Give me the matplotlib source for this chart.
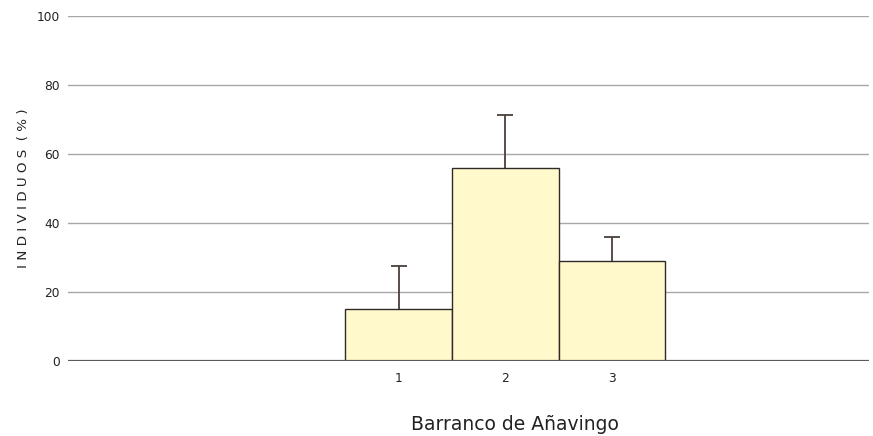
import matplotlib.pyplot as plt

sites = [1, 2, 3]
percent = [15.0, 56.0, 28.9]
err_up = [12.5, 15.2, 7.1]
yticks = [0, 20, 40, 60, 80, 100]

fig = plt.figure(figsize=(8.73, 4.36), dpi=100)
ax = fig.add_axes([68 / 873, 75.5 / 436, 801 / 873, 344.2 / 436])

for y in yticks[1:]:
    ax.axhline(y, color='#a8a8a8', lw=1.0, zorder=0)
ax.axhline(0, color='#5a5a5a', lw=1.6, zorder=3)

ax.bar(sites, percent, width=1.0, color='#fff9cc', edgecolor='#2e2a28', lw=1.0, zorder=2)

# upper error bars only: stem + top cap
tops = [p + e for p, e in zip(percent, err_up)]
ax.vlines(sites, percent, tops, color='#4a403c', lw=1.3, zorder=1)
ax.plot(sites, tops, ls='none', marker='_', markersize=11.5, markeredgewidth=1.3,
        color='#4a403c', zorder=1)

ax.set_xlim(-2.1, 5.41)
ax.set_ylim(0, 100)
ax.set_xticks(sites)
ax.set_yticks(yticks)
ax.tick_params(length=0, labelsize=8.8, colors='#222222')
ax.tick_params(axis='x', pad=8)
ax.tick_params(axis='y', pad=6)
for s in ax.spines.values():
    s.set_visible(False)

ax.set_ylabel('I N D I V I D U O S  ( % )', fontsize=9.7, color='#222222')
ax.yaxis.set_label_coords(-38 / 801, 0.5)
ax.set_xlabel('Barranco de Añavingo', fontsize=13.5, color='#222222')
ax.xaxis.set_label_coords(0.558, -54 / 344.2)

fig.savefig('out.png', dpi=100)
